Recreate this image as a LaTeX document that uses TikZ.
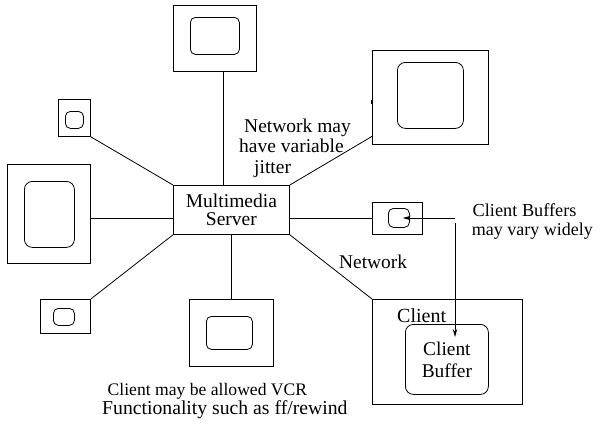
\documentclass[tikz,border=0pt]{standalone}
\usepackage{fontspec}
\setmainfont{Liberation Serif}
\usetikzlibrary{arrows.meta}
\tikzset{
  frame/.style={draw, line width=0.8pt, inner sep=0pt, anchor=north west},
  screen/.style={frame, rounded corners=5pt},
  bigscreen/.style={frame, rounded corners=8pt},
  lbl/.style={inner sep=0pt, anchor=base west},
  conn/.style={line width=0.8pt},
  arr/.style={conn, -{Stealth[length=8pt,width=4.5pt]}},
}
\newcommand{\fs}[2]{\fontsize{#1}{#2}\selectfont}
\begin{document}
\begin{tikzpicture}[x=1pt,y=-1pt]
\useasboundingbox (0,0) rectangle (605,424);
% terminals
\node[frame, minimum width=83pt, minimum height=66pt] (top) at (173,5) {};
\node[screen, minimum width=49pt, minimum height=37pt] (topi) at (190,17) {};
\node[frame, minimum width=32pt, minimum height=37pt] (tl) at (58,99) {};
\node[screen, minimum width=18pt, minimum height=17pt] (tli) at (65,111) {};
\node[frame, minimum width=83pt, minimum height=99pt] (lb) at (7,164) {};
\node[bigscreen, minimum width=50pt, minimum height=66pt] (lbi) at (24,181) {};
\node[frame, minimum width=50pt, minimum height=34pt] (bl) at (40,299) {};
\node[screen, minimum width=21pt, minimum height=17pt] (bli) at (53,308) {};
\node[frame, minimum width=84pt, minimum height=67pt] (bot) at (189,299) {};
\node[screen, minimum width=46pt, minimum height=33pt] (boti) at (206,316) {};
\node[frame, minimum width=116pt, minimum height=94pt] (tr) at (372,50) {};
\node[bigscreen, minimum width=66pt, minimum height=66pt] (tri) at (397,62) {};
\node[frame, minimum width=50pt, minimum height=32pt] (sr) at (372,202) {};
\node[screen, minimum width=21pt, minimum height=19pt] (sri) at (388,208) {};
\node[frame, minimum width=150pt, minimum height=105pt] (cl) at (372,299) {};
\node[bigscreen, minimum width=83pt, minimum height=70pt, align=center, font=\fs{19.4}{22}] (cbi) at (405,324) {Client\\Buffer};
% server
\node[frame, minimum width=116pt, minimum height=49pt, align=center, font=\fs{19.5}{18.5}] (srv) at (173,185) {Multimedia\\Server};
% connectors
\draw[conn] ([xshift=8.5pt]top.south) -- ([xshift=8.5pt]top.south |- srv.north);
\draw[conn] (tl.south east) -- (srv.north west);
\draw[conn] ([yshift=-4.5pt]lb.east) -- ([yshift=-4.5pt]lb.east -| srv.west);
\draw[conn] (bl.north east) -- (srv.south west);
\draw[conn] (srv.south) -- (srv.south |- bot.north);
\draw[conn] (srv.north east) -- ([yshift=-39pt]tr.west);
\draw[line width=2pt] ([yshift=-3pt]tr.west) -- ([yshift=-7pt]tr.west);
\draw[conn] (srv.east |- sr.west) -- (sr.west);
\draw[conn] (srv.south east) -- (cl.north west);
% arrows
\coordinate (cbs) at (455,218);
\coordinate (cbv) at (455,223);
\draw[arr] (cbs) -- ([xshift=-7pt]sri.east |- cbs);
\draw[arr] (cbv) -- ([yshift=-13pt]cbv |- cbi.north);
% labels
\node[lbl, font=\fs{19.5}{21}] (n1) at (244,132) {Network may};
\node[lbl, font=\fs{19.5}{21}] (n2) at (239,152) {have variable};
\node[lbl, font=\fs{19.5}{21}] (n3) at (254,173) {jitter};
\node[lbl, font=\fs{19.4}{21}] (net) at (339,268) {Network};
\node[lbl, font=\fs{20}{21}] (cll) at (397,322) {Client};
\node[lbl, font=\fs{18.3}{20}] (cb1) at (472.5,216) {Client Buffers};
\node[lbl, font=\fs{18}{20}] (cb2) at (471.7,235) {may vary widely};
\node[lbl, font=\fs{17.6}{20}] (v1) at (107.5,395) {Client may be allowed VCR};
\node[lbl, font=\fs{19.7}{21}] (v2) at (102,414) {Functionality such as ff/rewind};
\end{tikzpicture}
\end{document}
